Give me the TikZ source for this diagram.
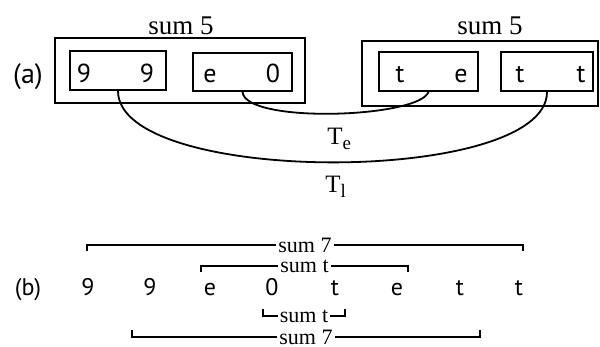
\documentclass[tikz,border=0pt]{standalone}
\usepackage{fontspec}
\setmainfont{Liberation Serif}
\newfontfamily\lettersf{PT Sans}
\usetikzlibrary{fit}
\begin{document}
\begin{tikzpicture}[x=0.5pt,y=-0.5pt,
  outerbox/.style={draw, line width=1.1pt, inner sep=0pt},
  innerbox/.style={draw, line width=1pt, inner sep=0pt},
  boxch/.style={font=\lettersf\fontsize{13}{15}\selectfont, anchor=base, inner sep=0pt},
  sumlbl/.style={font=\fontsize{13.5}{16}\selectfont, anchor=base, inner sep=0pt},
  tlbl/.style={font=\fontsize{12.5}{15}\selectfont, anchor=base west, inner sep=0pt},
  link/.style={line width=0.9pt},
  seqch/.style={font=\lettersf\fontsize{12}{14}\selectfont, anchor=base, inner sep=0pt},
  brace/.style={line width=0.7pt},
  brlbl/.style={font=\fontsize{11}{13}\selectfont, fill=white, inner xsep=1pt, inner ysep=0pt}]
\useasboundingbox[fill=white] (0,0) rectangle (600,347);

% ---- (a) two blocks of two pairs each
\node[outerbox, fit={(55,38) (305,103)}] (L) {};
\node[outerbox, fit={(362,41) (598,106)}] (R) {};
\node[innerbox, fit={(70,51) (166,90)}] (A) {};
\node[innerbox, fit={(193,53) (292,91)}] (B) {};
\node[innerbox, fit={(379,52) (478,91)}] (C) {};
\node[innerbox, fit={(501,52) (593,91)}] (D) {};

\node[sumlbl] (sL) at (181,35) {sum 5};
\node[sumlbl] (sR) at (490,35) {sum 5};
\node[boxch, font=\lettersf\fontsize{14}{16}\selectfont] (la) at (28,84) {(a)};

\node[boxch] (a1) at (84,83) {9};
\node[boxch] (a2) at (147,83) {9};
\node[boxch] (b1) at (210,83) {e};
\node[boxch] (b2) at (273,83) {0};
\node[boxch] (c1) at (400,83) {t};
\node[boxch] (c2) at (461,83) {e};
\node[boxch] (d1) at (520,83) {t};
\node[boxch] (d2) at (581,83) {t};

% transitions between pairs
\draw[link] (B.south) .. controls +(3,32) and +(-10,26) .. (C.south);
\draw[link] (A.south) .. controls +(0,95) and +(0,94) .. (D.south);
\node[tlbl] (Te) at (327,145) {T\raisebox{-0.35ex}{\fontsize{9.5}{10}\selectfont e}};
\node[tlbl] (Tl) at (325,193) {T\raisebox{-0.35ex}{\fontsize{9.5}{10}\selectfont l}};

% ---- (b) the flat sequence with its sums
\node[seqch] (lb) at (28,296) {(b)};
\node[seqch] (q1) at (88,296) {9};
\node[seqch] (q2) at (150,296) {9};
\node[seqch] (q3) at (210,296) {e};
\node[seqch] (q4) at (272,296) {0};
\node[seqch] (q5) at (335,296) {t};
\node[seqch] (q6) at (397,296) {e};
\node[seqch] (q7) at (460,296) {t};
\node[seqch] (q8) at (519,296) {t};

\coordinate (u1l) at (87,245);  \coordinate (u1r) at (523,245);
\coordinate (u2l) at (201,266); \coordinate (u2r) at (408,266);
\coordinate (d1l) at (263,316); \coordinate (d1r) at (345,316);
\coordinate (d2l) at (132,337); \coordinate (d2r) at (480,337);

\draw[brace] (u1l) ++(0,6) -- (u1l) -- node[brlbl] (s1) {sum 7} (u1r) -- ++(0,6);
\draw[brace] (u2l) ++(0,6) -- (u2l) -- node[brlbl] (s2) {sum t} (u2r) -- ++(0,6);
\draw[brace] (d1l) ++(0,-7) -- (d1l) -- node[brlbl] (s3) {sum t} (d1r) -- ++(0,-7);
\draw[brace] (d2l) ++(0,-7) -- (d2l) -- node[brlbl] (s4) {sum 7} (d2r) -- ++(0,-7);
\end{tikzpicture}
\end{document}
